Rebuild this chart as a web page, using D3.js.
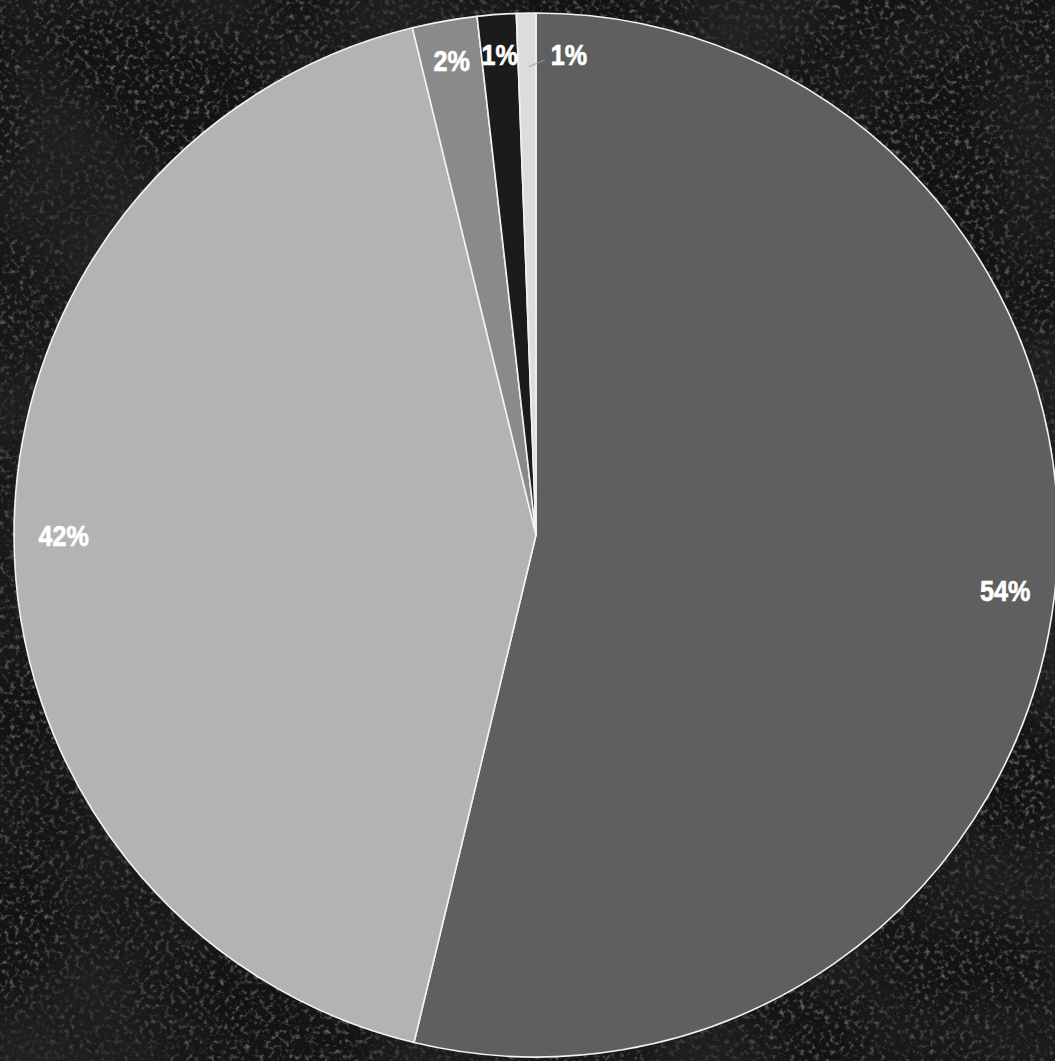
<!DOCTYPE html>
<html>
<head>
<meta charset="utf-8">
<script src="https://cdn.jsdelivr.net/npm/d3@7"></script>
<style>
  html, body { margin: 0; padding: 0; background: #0e0c0b; overflow: hidden; }
  svg { display: block; }
</style>
</head>
<body>
<svg id="chart" width="1055" height="1061"></svg>
<script>
// Data (clockwise from 12 o'clock)
const categories = ["A", "B", "C", "D", "E"];
const values = [53.7, 42.4, 2.0, 1.2, 0.6];
const labels = ["54%", "42%", "2%", "1%", "1%"];
const colors = ["#5f5f5f", "#b3b3b3", "#8a8a8a", "#1b1b1b", "#dcdcdc"];

const W = 1055, H = 1061;
const cx = 536, cy = 535, R = 522;

const svg = d3.select("#chart");

// textured dark background
const defs = svg.append("defs");
const f = defs.append("filter").attr("id", "stone")
  .attr("x", 0).attr("y", 0).attr("width", "100%").attr("height", "100%");
f.append("feTurbulence").attr("type", "fractalNoise")
  .attr("baseFrequency", "0.2").attr("numOctaves", 3).attr("seed", 7).attr("result", "n");
f.append("feColorMatrix").attr("type", "matrix")
  .attr("values", "0 0 0 0 0.66  0 0 0 0 0.64  0 0 0 0 0.62  3.0 0 0 0 -1.55")
  .attr("in", "n").attr("result", "speck");
const f2 = defs.append("filter").attr("id", "blotch")
  .attr("x", 0).attr("y", 0).attr("width", "100%").attr("height", "100%");
f2.append("feTurbulence").attr("type", "fractalNoise")
  .attr("baseFrequency", "0.006").attr("numOctaves", 2).attr("seed", 3).attr("result", "n");
f2.append("feColorMatrix").attr("type", "matrix")
  .attr("values", "0 0 0 0 0.02  0 0 0 0 0.02  0 0 0 0 0.02  2.4 0 0 0 -0.9");

svg.append("rect").attr("width", W).attr("height", H).attr("fill", "#151311");
svg.append("rect").attr("width", W).attr("height", H).attr("filter", "url(#stone)").attr("opacity", 0.45);
svg.append("rect").attr("width", W).attr("height", H).attr("filter", "url(#blotch)").attr("opacity", 0.75);

const pie = d3.pie().sort(null).value(d => d)(values);
const arc = d3.arc().innerRadius(0).outerRadius(R);

const g = svg.append("g").attr("transform", `translate(${cx},${cy})`);

g.selectAll("path.slice").data(pie).enter().append("path")
  .attr("class", "slice")
  .attr("d", arc)
  .attr("fill", (d, i) => colors[i])
  .attr("stroke", "#f2f2f2")
  .attr("stroke-width", 1.6)
  .attr("stroke-linejoin", "round");

// label positions
const labelArc = d3.arc().innerRadius(R * 0.905).outerRadius(R * 0.905);
const smallArc = d3.arc().innerRadius(R * 0.922).outerRadius(R * 0.922);

function labelPos(d, i) {
  if (i === 4) {
    const p = smallArc.centroid(d);
    return [p[0] + 42, p[1] + 1];
  }
  if (i >= 2) return smallArc.centroid(d);
  return labelArc.centroid(d);
}

// leader line for the last tiny slice
const last = pie[4];
const lp = smallArc.centroid(last);
g.append("line")
  .attr("x1", lp[0] + 2).attr("y1", lp[1] + 13)
  .attr("x2", lp[0] + 18).attr("y2", lp[1] + 6)
  .attr("stroke", "#9a9a9a").attr("stroke-width", 1.2).attr("opacity", 0.8);

g.selectAll("text.lbl").data(pie).enter().append("text")
  .attr("class", "lbl")
  .attr("transform", (d, i) => `translate(${labelPos(d, i)}) scale(0.84,1)`)
  .attr("text-anchor", "middle")
  .attr("dominant-baseline", "central")
  .attr("font-family", "'Liberation Sans', Arial, sans-serif")
  .attr("font-weight", "bold")
  .attr("font-size", 30)
  .attr("fill", "#ffffff")
  .attr("stroke", "#ffffff")
  .attr("stroke-width", 0.7)
  .text((d, i) => labels[i]);
</script>
</body>
</html>
